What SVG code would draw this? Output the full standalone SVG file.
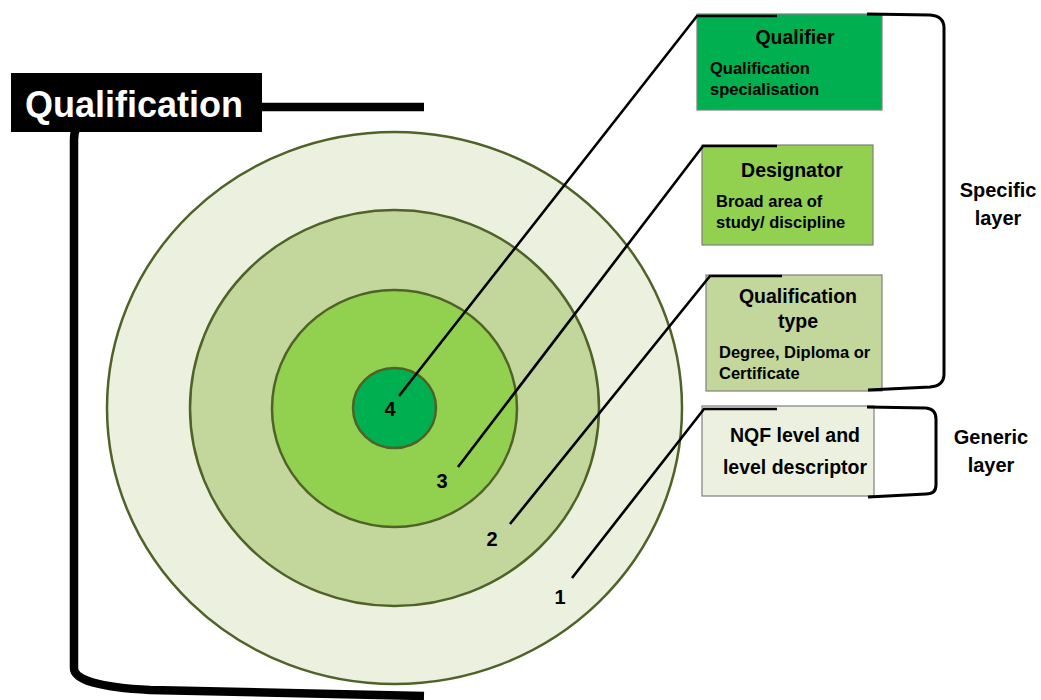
<svg xmlns="http://www.w3.org/2000/svg" width="1041" height="700" viewBox="0 0 1041 700">
<style>
.ring{stroke:#4f6228;stroke-width:2.5}
.box{stroke:#7f7f7f;stroke-width:1.2}
.t{font-family:"Liberation Sans",Arial,sans-serif;font-weight:bold;fill:#000}
.title{font-size:19.5px;text-anchor:middle}
.sub{font-size:16.5px}
.num{font-size:20px;text-anchor:middle}
.side{font-size:20px;text-anchor:middle}
.conn{stroke:#000;stroke-width:2.6;fill:none}
.brk{stroke:#000;stroke-width:3;fill:none}
</style>
<rect width="1041" height="700" fill="#fff"/>
<g id="left-bracket">
<path d="M424,107 L120,107 Q74,109 74,140 L74,668 Q74,686 150,690 L424,696" fill="none" stroke="#000" stroke-width="8.5"/>
</g>
<g id="qualification-label">
<rect x="11" y="73" width="251" height="59" fill="#000"/>
<text x="134" y="117" class="t" font-size="36" text-anchor="middle" fill="#fff" style="fill:#fff">Qualification</text>
</g>
<g id="ring1">
<ellipse cx="394.5" cy="408" rx="287.5" ry="276" fill="#ebf1de" class="ring"/>
</g>
<g id="ring2">
<ellipse cx="394.5" cy="408" rx="204.5" ry="198" fill="#c3d69b" class="ring"/>
</g>
<g id="ring3">
<ellipse cx="394.5" cy="408.5" rx="122.5" ry="118.5" fill="#92d050" class="ring"/>
</g>
<g id="ring4">
<ellipse cx="394.5" cy="408" rx="41.5" ry="40" fill="#00b050" class="ring"/>
</g>
<g id="box-qualifier">
<rect x="697" y="14" width="185" height="96" fill="#00b050" class="box"/>
<text x="795" y="44" class="t title">Qualifier</text>
<text x="710" y="74" class="t sub">Qualification</text>
<text x="710" y="95" class="t sub">specialisation</text>
</g>
<g id="box-designator">
<rect x="702" y="145" width="171" height="100" fill="#92d050" class="box"/>
<text x="792" y="177" class="t title">Designator</text>
<text x="716" y="207" class="t sub">Broad area of</text>
<text x="716" y="228" class="t sub">study/ discipline</text>
</g>
<g id="box-type">
<rect x="706" y="275" width="176" height="116" fill="#c3d69b" class="box"/>
<text x="798" y="303" class="t title">Qualification</text>
<text x="798" y="328" class="t title">type</text>
<text x="719" y="358" class="t sub">Degree, Diploma or</text>
<text x="719" y="379" class="t sub">Certificate</text>
</g>
<g id="box-nqf">
<rect x="702" y="406" width="172" height="90" fill="#ebf1de" class="box"/>
<text x="795" y="442" class="t title">NQF level and</text>
<text x="795" y="474" class="t title">level descriptor</text>
</g>
<g id="connectors">
<path d="M399,396 L697,16 L777,16" class="conn"/>
<path d="M458,467 L703,146 L777,146" class="conn"/>
<path d="M510,524 L710,276 L782,276" class="conn"/>
<path d="M572,578 L704,409 L777,409" class="conn"/>
</g>
<g id="numbers">
<text x="390" y="416" class="t num">4</text>
<text x="442" y="488" class="t num">3</text>
<text x="492" y="546" class="t num">2</text>
<text x="560" y="604" class="t num">1</text>
</g>
<g id="specific-layer">
<path d="M867,14 L930,15 Q944,16 944,28 L944,374 Q944,386 930,387 L868,390" class="brk"/>
<text x="998" y="197" class="t side">Specific</text>
<text x="998" y="225" class="t side">layer</text>
</g>
<g id="generic-layer">
<path d="M867,407 L926,408 Q936,409 936,419 L936,485 Q936,494 926,494 L868,497" class="brk"/>
<text x="991" y="444" class="t side">Generic</text>
<text x="991" y="472" class="t side">layer</text>
</g>
</svg>
